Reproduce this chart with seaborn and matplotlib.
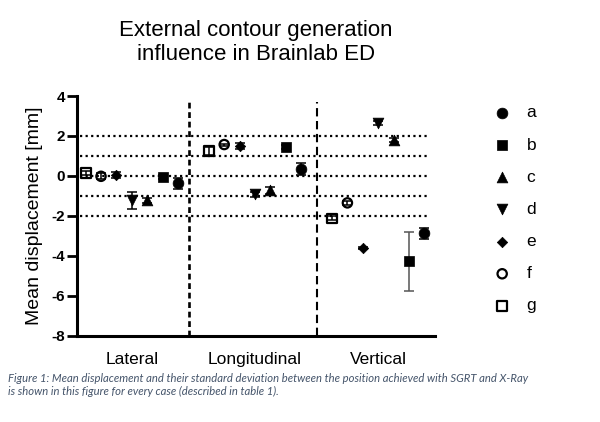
import numpy as np
import pandas as pd
import seaborn as sns
import matplotlib.pyplot as plt

# data
cases = ['a', 'b', 'c', 'd', 'e', 'f', 'g']
directions = ['Lateral', 'Longitudinal', 'Vertical']

lateral_mean = [-0.38, -0.03, -1.22, -1.22, 0.07, -0.02, 0.15]
lateral_sd = [0.30, 0.10, 0.12, 0.42, 0.15, 0.15, 0.10]
longitudinal_mean = [0.37, 1.45, -0.72, -0.93, 1.50, 1.57, 1.25]
longitudinal_sd = [0.30, 0.10, 0.18, 0.12, 0.15, 0.05, 0.20]
vertical_mean = [-2.88, -4.27, 1.79, 2.65, -3.60, -1.35, -2.13]
vertical_sd = [0.27, 1.47, 0.10, 0.12, 0.05, 0.10, 0.10]

markers = {'a': 'o', 'b': 's', 'c': '^', 'd': 'v', 'e': 'D', 'f': 'o', 'g': 's'}
sizes = {'a': 60, 'b': 55, 'c': 60, 'd': 60, 'e': 28, 'f': 45, 'g': 50}
open_cases = ['f', 'g']

# plot order inside each group is g, f, e, d, c, b, a
order = cases[::-1]

rows = []
for gi, (means, sds) in enumerate([(lateral_mean, lateral_sd),
                                   (longitudinal_mean, longitudinal_sd),
                                   (vertical_mean, vertical_sd)]):
    for ci, case in enumerate(cases):
        rows.append({'direction': directions[gi], 'case': case,
                     'mean': means[ci], 'sd': sds[ci],
                     'pos': gi * 8 + order.index(case)})
df = pd.DataFrame(rows)

sns.set_theme(style='white')
plt.rcParams['font.family'] = ['Liberation Sans', 'DejaVu Sans']
plt.rcParams['axes.unicode_minus'] = False
# plain black text like the original export
for key in ['text.color', 'axes.labelcolor', 'xtick.color', 'ytick.color']:
    plt.rcParams[key] = 'black'

fig = plt.figure(figsize=(6, 4.22), dpi=100)
ax = fig.add_axes([0.1278, 0.2045, 0.597, 0.568])

# reference lines
for yv in [-2, -1, 0, 1, 2]:
    ax.plot([-0.35, 22.35], [yv, yv], color='black', linestyle=(0, (1, 1.5)),
            linewidth=1.6, zorder=1)
ax.plot([6.7, 6.7], [-8, 3.7], color='black', linestyle=(0, (2.2, 1.4)),
        linewidth=1.9, zorder=1)
ax.plot([15.05, 15.05], [-8, 3.7], color='black', linestyle=(0, (4, 2.2)),
        linewidth=1.5, zorder=1)

# error bars
for _, r in df.iterrows():
    ecol = '#555555' if r['sd'] > 1 else 'black'
    ax.errorbar(r['pos'], r['mean'], yerr=r['sd'], fmt='none', ecolor=ecol,
                elinewidth=1.1, capsize=3.8, capthick=1.1, zorder=2)

# points, one call per case so every case keeps its own marker
for case in cases:
    sub = df[df['case'] == case]
    sns.scatterplot(data=sub, x='pos', y='mean', marker=markers[case],
                    s=sizes[case], color='black', edgecolor='black',
                    linewidth=1.6 if case in open_cases else 0.5,
                    ax=ax, label=case, zorder=3)
    if case in open_cases:
        ax.collections[-1].set_facecolor('none')

ax.set_xlim(-0.58, 22.68)
ax.set_ylim(-8, 4)
ax.set_yticks([-8, -6, -4, -2, 0, 2, 4])
ax.set_xticks([3, 11, 19])
ax.set_xticklabels(directions, fontsize=12.5)
ax.tick_params(axis='x', length=0, pad=12)
ax.tick_params(axis='y', length=7, width=2, direction='out', pad=1.5,
               labelsize=11, left=True)
for lab in ax.get_yticklabels():
    lab.set_fontweight('bold')

for side in ['top', 'right']:
    ax.spines[side].set_visible(False)
for side in ['left', 'bottom']:
    ax.spines[side].set_linewidth(2.2)
    ax.spines[side].set_color('black')

ax.set_xlabel('')
ax.set_ylabel('Mean displacement [mm]', fontsize=14, labelpad=6)
ax.set_title('External contour generation\ninfluence in Brainlab ED',
             fontsize=16, linespacing=1.15, pad=26)

ax.legend(loc='upper left', bbox_to_anchor=(1.12, 0.99), frameon=False,
          fontsize=12.5, labelspacing=0.98, handletextpad=0.4,
          markerscale=1.0, borderaxespad=0)

fig.text(0.013, 0.116, 'Figure 1: Mean displacement and their standard deviation '
         'between the position achieved with SGRT and X-Ray\n'
         'is shown in this figure for every case (described in table 1).',
         fontsize=8.1, style='italic', color='#44546A', family='Lato',
         linespacing=1.25, va='top')

fig.savefig('out.png', dpi=100)
